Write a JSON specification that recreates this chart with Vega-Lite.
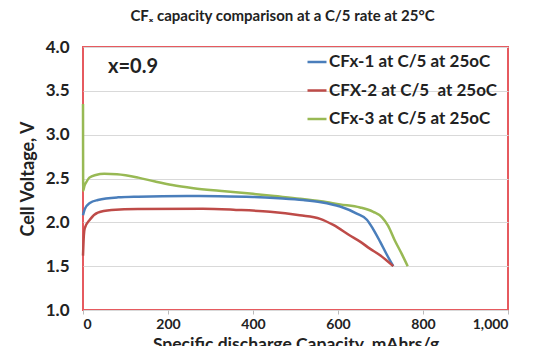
{
  "$schema": "https://vega.github.io/schema/vega-lite/v6.json",
  "autosize": {"type": "none"},
  "padding": {"left": 83, "top": 47, "right": 26, "bottom": 36},
  "width": 425,
  "height": 263,
  "background": "white",
  "title": {
    "text": "CFₓ capacity comparison at a C/5 rate at 25°C",
    "font": "Lato",
    "fontSize": 15,
    "fontWeight": "bold",
    "color": "#222222",
    "anchor": "middle",
    "baseline": "alphabetic",
    "offset": 2,
    "dx": -13
  },
  "config": {
    "font": "Lato",
    "view": {"stroke": "#E65A5F", "strokeWidth": 2},
    "axis": {
      "labelFont": "Lato",
      "labelFontWeight": "bold",
      "labelColor": "#222222",
      "titleFont": "Lato",
      "titleFontWeight": "bold",
      "titleColor": "#222222",
      "domain": false
    }
  },
  "datasets": {
    "curves": [
      {"series": "CFx-3 at C/5 at 25oC", "cap": 0, "v": 3.35},
      {"series": "CFx-3 at C/5 at 25oC", "cap": 0.5, "v": 2.36},
      {"series": "CFx-3 at C/5 at 25oC", "cap": 3, "v": 2.41},
      {"series": "CFx-3 at C/5 at 25oC", "cap": 8, "v": 2.46},
      {"series": "CFx-3 at C/5 at 25oC", "cap": 15, "v": 2.51},
      {"series": "CFx-3 at C/5 at 25oC", "cap": 30, "v": 2.54},
      {"series": "CFx-3 at C/5 at 25oC", "cap": 50, "v": 2.553},
      {"series": "CFx-3 at C/5 at 25oC", "cap": 80, "v": 2.548},
      {"series": "CFx-3 at C/5 at 25oC", "cap": 130, "v": 2.51},
      {"series": "CFx-3 at C/5 at 25oC", "cap": 170, "v": 2.465},
      {"series": "CFx-3 at C/5 at 25oC", "cap": 210, "v": 2.425},
      {"series": "CFx-3 at C/5 at 25oC", "cap": 260, "v": 2.39},
      {"series": "CFx-3 at C/5 at 25oC", "cap": 320, "v": 2.36},
      {"series": "CFx-3 at C/5 at 25oC", "cap": 400, "v": 2.325},
      {"series": "CFx-3 at C/5 at 25oC", "cap": 450, "v": 2.30},
      {"series": "CFx-3 at C/5 at 25oC", "cap": 510, "v": 2.27},
      {"series": "CFx-3 at C/5 at 25oC", "cap": 560, "v": 2.24},
      {"series": "CFx-3 at C/5 at 25oC", "cap": 605, "v": 2.205},
      {"series": "CFx-3 at C/5 at 25oC", "cap": 652, "v": 2.17},
      {"series": "CFx-3 at C/5 at 25oC", "cap": 683, "v": 2.12},
      {"series": "CFx-3 at C/5 at 25oC", "cap": 703, "v": 2.06},
      {"series": "CFx-3 at C/5 at 25oC", "cap": 718, "v": 1.96},
      {"series": "CFx-3 at C/5 at 25oC", "cap": 734, "v": 1.79},
      {"series": "CFx-3 at C/5 at 25oC", "cap": 750, "v": 1.64},
      {"series": "CFx-3 at C/5 at 25oC", "cap": 764, "v": 1.5},

      {"series": "CFx-1 at C/5 at 25oC", "cap": 0, "v": 2.08},
      {"series": "CFx-1 at C/5 at 25oC", "cap": 4, "v": 2.15},
      {"series": "CFx-1 at C/5 at 25oC", "cap": 16, "v": 2.22},
      {"series": "CFx-1 at C/5 at 25oC", "cap": 35, "v": 2.255},
      {"series": "CFx-1 at C/5 at 25oC", "cap": 82, "v": 2.285},
      {"series": "CFx-1 at C/5 at 25oC", "cap": 130, "v": 2.293},
      {"series": "CFx-1 at C/5 at 25oC", "cap": 244, "v": 2.30},
      {"series": "CFx-1 at C/5 at 25oC", "cap": 320, "v": 2.298},
      {"series": "CFx-1 at C/5 at 25oC", "cap": 400, "v": 2.29},
      {"series": "CFx-1 at C/5 at 25oC", "cap": 460, "v": 2.275},
      {"series": "CFx-1 at C/5 at 25oC", "cap": 518, "v": 2.255},
      {"series": "CFx-1 at C/5 at 25oC", "cap": 560, "v": 2.23},
      {"series": "CFx-1 at C/5 at 25oC", "cap": 605, "v": 2.18},
      {"series": "CFx-1 at C/5 at 25oC", "cap": 644, "v": 2.10},
      {"series": "CFx-1 at C/5 at 25oC", "cap": 668, "v": 2.03},
      {"series": "CFx-1 at C/5 at 25oC", "cap": 683, "v": 1.92},
      {"series": "CFx-1 at C/5 at 25oC", "cap": 699, "v": 1.78},
      {"series": "CFx-1 at C/5 at 25oC", "cap": 715, "v": 1.63},
      {"series": "CFx-1 at C/5 at 25oC", "cap": 730, "v": 1.5},

      {"series": "CFX-2 at C/5\u00a0 at 25oC", "cap": 0, "v": 1.62},
      {"series": "CFX-2 at C/5\u00a0 at 25oC", "cap": 2, "v": 1.85},
      {"series": "CFX-2 at C/5\u00a0 at 25oC", "cap": 4, "v": 1.93},
      {"series": "CFX-2 at C/5\u00a0 at 25oC", "cap": 16, "v": 2.03},
      {"series": "CFX-2 at C/5\u00a0 at 25oC", "cap": 35, "v": 2.11},
      {"series": "CFX-2 at C/5\u00a0 at 25oC", "cap": 67, "v": 2.14},
      {"series": "CFX-2 at C/5\u00a0 at 25oC", "cap": 129, "v": 2.153},
      {"series": "CFX-2 at C/5\u00a0 at 25oC", "cap": 282, "v": 2.155},
      {"series": "CFX-2 at C/5\u00a0 at 25oC", "cap": 360, "v": 2.142},
      {"series": "CFX-2 at C/5\u00a0 at 25oC", "cap": 440, "v": 2.12},
      {"series": "CFX-2 at C/5\u00a0 at 25oC", "cap": 510, "v": 2.08},
      {"series": "CFX-2 at C/5\u00a0 at 25oC", "cap": 558, "v": 2.04},
      {"series": "CFX-2 at C/5\u00a0 at 25oC", "cap": 589, "v": 1.97},
      {"series": "CFX-2 at C/5\u00a0 at 25oC", "cap": 628, "v": 1.85},
      {"series": "CFX-2 at C/5\u00a0 at 25oC", "cap": 652, "v": 1.78},
      {"series": "CFX-2 at C/5\u00a0 at 25oC", "cap": 675, "v": 1.70},
      {"series": "CFX-2 at C/5\u00a0 at 25oC", "cap": 699, "v": 1.625},
      {"series": "CFX-2 at C/5\u00a0 at 25oC", "cap": 730, "v": 1.5}
    ]
  },
  "layer": [
    {
      "data": {"name": "curves"},
      "mark": {"type": "line", "strokeWidth": 2.5, "interpolate": "monotone"},
      "encoding": {
        "x": {
          "field": "cap", "type": "quantitative",
          "scale": {"domain": [0, 1000], "nice": false},
          "axis": {
            "values": [0, 200, 400, 600, 800, 1000],
            "format": ",.0f",
            "grid": false,
            "ticks": true,
            "tickSize": 4,
            "tickColor": "#BBBBBB",
            "labelFontSize": 14,
            "labelPadding": 3,
            "title": "Specific discharge Capacity, mAhrs/g",
            "titleFontSize": 17.5,
            "titlePadding": 4
          }
        },
        "y": {
          "field": "v", "type": "quantitative",
          "scale": {"domain": [1, 4], "nice": false},
          "axis": {
            "values": [1, 1.5, 2, 2.5, 3, 3.5, 4],
            "format": ".1f",
            "grid": true,
            "gridColor": "#D9D9D9",
            "ticks": false,
            "labelFontSize": 17,
            "labelPadding": 14,
            "title": "Cell Voltage, V",
            "titleFontSize": 18,
            "titlePadding": 8
          }
        },
        "color": {
          "field": "series", "type": "nominal",
          "scale": {
            "domain": ["CFx-1 at C/5 at 25oC", "CFX-2 at C/5\u00a0 at 25oC", "CFx-3 at C/5 at 25oC"],
            "range": ["#4A7EBB", "#BE4B48", "#98B954"]
          },
          "legend": {
            "title": null,
            "orient": "none",
            "legendX": 223,
            "legendY": 4,
            "symbolType": "stroke",
            "symbolSize": 361,
            "symbolStrokeWidth": 2.5,
            "labelFont": "Lato",
            "labelFontSize": 17,
            "labelFontWeight": "bold",
            "labelColor": "#222222",
            "labelOffset": 1,
            "rowPadding": 9.5,
            "labelLimit": 300
          }
        },
        "order": {"field": "cap", "type": "quantitative"}
      }
    },
    {
      "data": {"values": [{}]},
      "mark": {"type": "text", "align": "left", "baseline": "middle", "font": "Lato", "fontSize": 20, "fontWeight": "bold", "color": "#222222"},
      "encoding": {
        "x": {"datum": 59},
        "y": {"datum": 3.77},
        "text": {"value": "x=0.9"}
      }
    }
  ]
}
